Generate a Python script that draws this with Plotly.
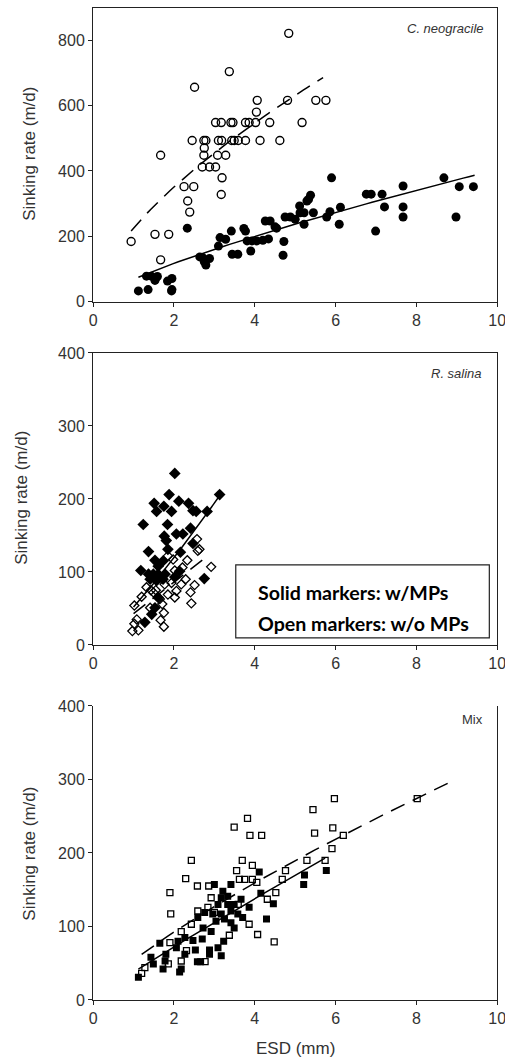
import numpy as np
import plotly.graph_objects as go

# ---------------- Data ----------------
# Panel 1: C. neogracile
cn_open_x = [0.94, 1.53, 1.67, 1.67, 1.87, 2.25, 2.34, 2.39, 2.49, 2.51, 2.45, 2.74, 2.79, 2.75, 2.74,
             2.70, 2.88, 3.03, 3.03, 3.17, 3.10, 3.18, 3.08, 3.19, 3.17, 3.37, 3.28, 3.41, 3.46, 3.43,
             3.49, 3.59, 3.77, 3.77, 3.86, 4.02, 4.04, 4.06, 4.13, 4.37, 4.62, 4.81, 4.84, 5.17, 5.51, 5.76]
cn_open_y = [184, 206, 448, 128, 206, 352, 308, 274, 352, 656, 493, 493, 493, 470, 448,
             412, 412, 412, 548, 548, 493, 493, 448, 379, 328, 704, 448, 548, 548, 493,
             493, 493, 493, 548, 548, 548, 580, 616, 493, 548, 493, 616, 821, 548, 616, 616]

cn_solid_x = [1.12, 1.36, 1.32, 1.44, 1.54, 1.59, 1.53, 1.84, 1.95, 1.95, 1.94, 2.33, 2.64, 2.71, 2.75,
              2.79, 2.88, 3.10, 3.14, 3.28, 3.42, 3.73, 3.77, 3.44, 3.58, 3.90, 3.81, 3.93, 4.05, 4.20,
              4.34, 4.26, 4.38, 4.50, 4.54, 4.72, 4.70, 4.75, 4.88, 5.00, 5.12, 5.11, 5.29, 5.38, 5.33,
              5.22, 5.22, 5.45, 5.78, 5.90, 5.86, 6.12, 6.09, 6.76, 6.88, 7.15, 7.21, 6.99, 7.67, 7.67,
              7.67, 8.68, 9.06, 9.41, 8.98]
cn_solid_y = [33, 37, 78, 78, 71, 77, 65, 63, 71, 37, 33, 225, 137, 135, 122,
              112, 132, 170, 196, 191, 216, 224, 216, 145, 145, 155, 186, 186, 186, 188,
              192, 247, 247, 229, 225, 184, 142, 259, 259, 252, 272, 293, 308, 326, 313,
              272, 237, 272, 259, 379, 275, 289, 237, 329, 329, 329, 290, 216, 354, 290,
              259, 379, 352, 352, 259]

# Panel 2: R. salina
rs_solid_x = [1.24, 1.37, 1.18, 1.51, 1.57, 1.75, 1.88, 1.94, 1.84, 2.02, 2.12, 2.36, 2.47, 2.55, 2.82,
              3.13, 2.41, 1.76, 1.85, 2.16, 2.47, 2.06, 2.22, 1.53, 1.73, 1.61, 1.37, 1.49, 1.61, 1.78,
              1.41, 1.57, 1.73, 2.02, 2.14, 2.75, 1.61, 1.53, 1.45, 1.28, 1.81]
rs_solid_y = [165, 128, 102, 194, 183, 190, 206, 183, 165, 235, 197, 194, 184, 183, 183,
              206, 160, 149, 131, 127, 139, 152, 152, 116, 115, 108, 97, 97, 97, 97,
              90, 88, 90, 93, 101, 91, 65, 51, 42, 31, 143]

rs_open_x = [0.97, 1.12, 1.02, 1.08, 1.02, 1.20, 1.32, 1.43, 1.55, 1.65, 1.67, 1.75, 1.71, 1.75, 1.41,
             2.02, 2.06, 2.18, 2.29, 2.21, 2.33, 2.02, 1.94, 1.77, 2.43, 2.41, 2.51, 2.59, 2.57, 2.63,
             2.92, 1.85, 1.98, 1.69, 1.85, 1.49]
rs_open_y = [19, 20, 29, 35, 54, 66, 79, 75, 75, 63, 34, 25, 56, 44, 51,
             65, 74, 83, 90, 106, 116, 102, 85, 83, 57, 72, 82, 129, 145, 131,
             107, 122, 117, 92, 69, 72]

# Panel 3: Mix
mx_open_x = [1.28, 1.20, 1.90, 1.92, 2.43, 2.29, 2.58, 2.86, 3.49, 3.82, 3.88, 4.17, 3.69, 3.94, 3.55,
             3.62, 3.75, 3.94, 4.05, 4.76, 4.68, 4.52, 4.31, 4.07, 4.48, 3.86, 3.37, 5.29, 5.44, 5.48,
             5.97, 5.93, 5.91, 5.74, 6.19, 8.02, 2.18, 2.77, 1.90, 2.18, 2.43, 2.59, 2.92, 2.84, 1.86,
             3.00, 3.59, 2.31]
mx_open_y = [44, 36, 146, 117, 190, 165, 155, 155, 235, 247, 224, 224, 190, 183, 176,
             164, 164, 164, 160, 176, 164, 146, 137, 89, 79, 103, 88, 190, 259, 227,
             274, 234, 206, 190, 224, 274, 53, 52, 78, 93, 103, 121, 139, 126, 49,
             119, 130, 67]

mx_solid_x = [1.12, 1.43, 1.49, 1.65, 1.80, 1.78, 2.14, 2.18, 2.27, 2.10, 2.47, 2.53, 2.58, 2.66, 2.70,
              2.72, 2.59, 2.76, 2.88, 2.88, 2.92, 3.17, 3.23, 3.00, 3.21, 3.41, 3.17, 3.25, 3.33, 3.41,
              3.49, 3.41, 3.49, 2.96, 3.04, 3.58, 3.17, 3.33, 3.09, 3.66, 3.70, 3.86, 4.11, 4.15, 4.29,
              4.46, 5.21, 5.23, 5.77, 2.06, 1.73, 2.27, 3.09]
mx_solid_y = [31, 58, 49, 77, 62, 53, 38, 42, 85, 80, 81, 68, 52, 52, 83,
              98, 112, 119, 68, 62, 93, 60, 80, 157, 148, 157, 117, 110, 130, 121,
              130, 105, 98, 117, 107, 117, 139, 141, 130, 137, 112, 126, 174, 145, 110,
              131, 157, 170, 176, 71, 42, 62, 71]

# Trend lines (power fits y = a * x^b)
fits = {
    "cn_open": dict(a=225.0, b=0.641, x0=0.94, x1=5.69),
    "cn_solid": dict(a=68.7, b=0.77, x0=1.12, x1=9.44),
    "rs_open": dict(a=43.0, b=1.0, x0=1.0, x1=2.75),
    "rs_solid": dict(a=52.0, b=1.2, x0=1.0, x1=3.15),
    "mx_open": dict(a=53.7, b=0.784, x0=1.2, x1=8.85),
    "mx_solid": dict(a=37.8, b=0.933, x0=1.12, x1=5.74),
}

x_ticks = [0, 2, 4, 6, 8, 10]
panel_labels = ["C. neogracile", "R. salina", "Mix"]
y_title = "Sinking rate (m/d)"
x_title = "ESD (mm)"
legend_lines = ["Solid markers: w/MPs", "Open markers: w/o MPs"]

# ---------------- Figure ----------------
W, H = 512, 1058
S, BX, BY = 0.984, 1.0, 7.0  # page-to-picture correction observed
fig = go.Figure()


def px_x(p):
    return min(1.0, max(0.0, ((p - BX) / S) / W))


def px_y(p):
    return min(1.0, max(0.0, 1 - ((p - BY) / S) / H))


def fit_line(key):
    p = fits[key]
    xs = np.linspace(p["x0"], p["x1"], 60)
    return xs, p["a"] * xs ** p["b"]


def add_scatter(x, y, sym, size, xa, ya, lw=1.4):
    fig.add_trace(go.Scatter(x=x, y=y, mode="markers", xaxis=xa, yaxis=ya, showlegend=False,
                             marker=dict(symbol=sym, size=size, color="black",
                                         line=dict(color="black", width=lw))))


def add_line(key, dash, xa, ya):
    xs, ys = fit_line(key)
    fig.add_trace(go.Scatter(x=xs, y=ys, mode="lines", xaxis=xa, yaxis=ya, showlegend=False,
                             line=dict(color="black", width=1.5, dash=dash)))


# panel 1
add_scatter(cn_open_x, cn_open_y, "circle-open", 8, "x", "y", 1.4)
add_scatter(cn_solid_x, cn_solid_y, "circle", 9, "x", "y", 0)
add_line("cn_open", "15px,9px", "x", "y")
add_line("cn_solid", "solid", "x", "y")
# panel 2
add_scatter(rs_open_x, rs_open_y, "diamond-open", 7, "x2", "y2", 1.3)
add_scatter(rs_solid_x, rs_solid_y, "diamond", 9, "x2", "y2", 0)
add_line("rs_open", "15px,9px", "x2", "y2")
add_line("rs_solid", "solid", "x2", "y2")
# panel 3
add_scatter(mx_open_x, mx_open_y, "square-open", 6, "x3", "y3", 1.3)
add_scatter(mx_solid_x, mx_solid_y, "square", 7, "x3", "y3", 0)
add_line("mx_open", "15px,9px", "x3", "y3")
add_line("mx_solid", "solid", "x3", "y3")

xd = [px_x(91), px_x(499)]


def ydom(top, bottom):
    return [px_y(bottom), px_y(top)]


FONT = "Liberation Sans, Arial, sans-serif"
tickfont = dict(family=FONT, size=16, color="#333")
axis_common = dict(showgrid=False, zeroline=False, showline=True, linecolor="#222", linewidth=1.3,
                   ticks="outside", ticklen=4, tickcolor="#222", tickwidth=1.2, tickfont=tickfont,
                   ticklabeloverflow="allow")

layout = dict(width=W, height=H, margin=dict(l=0, r=0, t=0, b=0),
              paper_bgcolor="white", plot_bgcolor="white", showlegend=False)

layout["xaxis"] = dict(domain=xd, anchor="y", range=[0, 10], tickvals=x_ticks, mirror=True, **axis_common)
layout["yaxis"] = dict(domain=ydom(7.5, 300.7), anchor="x", range=[0, 897], tickvals=[0, 200, 400, 600, 800],
                       mirror=True, **axis_common)
layout["xaxis2"] = dict(domain=xd, anchor="y2", range=[0, 10], tickvals=x_ticks, mirror=True, **axis_common)
layout["yaxis2"] = dict(domain=ydom(352, 644), anchor="x2", range=[0, 400], tickvals=[0, 100, 200, 300, 400],
                        mirror=True, **axis_common)
layout["xaxis3"] = dict(domain=xd, anchor="y3", range=[0, 10], tickvals=x_ticks, **axis_common)
layout["yaxis3"] = dict(domain=ydom(705, 999), anchor="x3", range=[0, 400], tickvals=[0, 100, 200, 300, 400],
                        mirror=True, **axis_common)

annotations = []
ytitle_pos = [(27, 153), (19, 497), (27, 853)]
for (px, py) in ytitle_pos:
    annotations.append(dict(xref="paper", yref="paper", x=px_x(px), y=px_y(py), text=y_title,
                            textangle=-90, showarrow=False, xanchor="center", yanchor="middle",
                            font=dict(family=FONT, size=17, color="#333")))
annotations.append(dict(xref="paper", yref="paper", x=px_x(295), y=px_y(1048), text=x_title,
                        showarrow=False, xanchor="center", yanchor="middle",
                        font=dict(family=FONT, size=17, color="#333")))
label_pos = [(488, 28, True), (486, 373, True), (487, 719, False)]
for lab, (px, py, it) in zip(panel_labels, label_pos):
    annotations.append(dict(xref="paper", yref="paper", x=px_x(px), y=px_y(py),
                            text=f"<i>{lab}</i>" if it else lab, showarrow=False,
                            xanchor="right", yanchor="middle",
                            font=dict(family=FONT, size=13, color="#333")))
for i, line in enumerate(legend_lines):
    annotations.append(dict(xref="paper", yref="paper", x=px_x(255), y=px_y(592 + 31 * i),
                            text=f"<b>{line}</b>", showarrow=False, xanchor="left", yanchor="middle",
                            font=dict(family="Lato, Noto Sans", size=19.6, color="black")))
layout["annotations"] = annotations
layout["shapes"] = [dict(type="rect", xref="paper", yref="paper", x0=px_x(235), x1=px_x(491),
                         y0=px_y(637), y1=px_y(564), line=dict(color="#222", width=1.2),
                         fillcolor="white", layer="above")]
fig.update_layout(**layout)
fig.write_html("out.html")
